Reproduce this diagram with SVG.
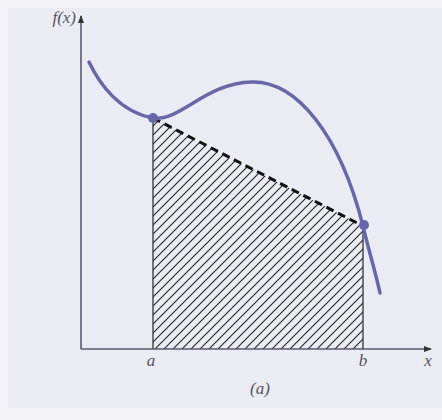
<svg xmlns="http://www.w3.org/2000/svg" width="442" height="420" viewBox="0 0 442 420">
<style>
.lbl{font-family:"Liberation Serif","DejaVu Serif",serif;font-style:italic;font-size:17px;fill:#555560}
.axis{stroke:#5a5a70;stroke-width:1.6;fill:none}
.curve{stroke:#6868a8;stroke-width:3.5;fill:none;stroke-linecap:round}
.edge{stroke:#333;stroke-width:1.3}
</style>
<defs>
<pattern id="hatch" width="9" height="9" patternUnits="userSpaceOnUse">
<path d="M-1,1 l2,-2 M0,9 l9,-9 M8,10 l2,-2" stroke="#2a2a2a" stroke-width="1.2"/>
</pattern>
<marker id="arr" markerWidth="8" markerHeight="6" refX="7" refY="3" orient="auto" markerUnits="userSpaceOnUse">
<path d="M0,0 L8,3 L0,6 Z" fill="#333"/>
</marker>
</defs>
<rect width="442" height="420" fill="#f4f4f8"/>
<rect x="8" y="8" width="434" height="400" fill="#ebebf3"/>
<g id="area">
<polygon points="153,118 363,226 363,349 153,349" fill="url(#hatch)"/>
<line class="edge" x1="153" y1="118" x2="153" y2="349"/>
<line class="edge" x1="363" y1="226" x2="363" y2="349"/>
</g>
<g id="axes">
<line class="axis" x1="81" y1="349" x2="81" y2="16" marker-end="url(#arr)"/>
<line class="axis" x1="81" y1="349" x2="431" y2="349" marker-end="url(#arr)"/>
</g>
<g id="connectors">
<line x1="153" y1="118" x2="363" y2="226" stroke="#111" stroke-width="3" stroke-dasharray="8 5"/>
</g>
<g id="curve">
<path class="curve" d="M89,62 C100,85 120,112 153,118 C180,122 205,83 252,82 C297,81 340,135 363,226 C368,248 375,270 380,293"/>
</g>
<g id="point-a"><circle cx="153" cy="118" r="5" fill="#6666aa"/></g>
<g id="point-b"><circle cx="364" cy="225" r="5" fill="#6666aa"/></g>
<g id="labels">
<text class="lbl" x="76" y="23" text-anchor="end">f(x)</text>
<text class="lbl" x="151" y="366" text-anchor="middle">a</text>
<text class="lbl" x="363" y="366" text-anchor="middle">b</text>
<text class="lbl" x="428" y="366" text-anchor="middle">x</text>
<text class="lbl" x="260" y="394" text-anchor="middle">(a)</text>
</g>
</svg>
